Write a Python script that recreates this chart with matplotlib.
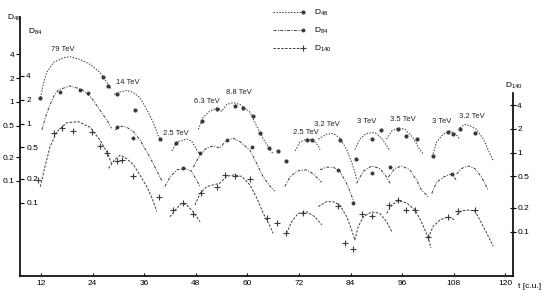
import matplotlib
matplotlib.use('Agg')
import matplotlib.pyplot as plt
from matplotlib.ticker import NullLocator
from matplotlib.lines import Line2D
from matplotlib.legend_handler import HandlerLine2D

plt.rcParams['font.family'] = ['Liberation Sans', 'DejaVu Sans']
plt.rcParams['mathtext.default'] = 'regular'

## Data (t in c.u.)

# D48 - upper curve (left outer axis)
d48_arc_t = [[11.9, 12.4, 13.3, 14.9, 17.2, 18.7, 21.1, 23.4, 25.7, 27.3, 28.4],
             [29.0, 30.4, 32.0, 33.4, 35.0, 36.6, 38.1, 39.3, 40.1],
             [42.4, 43.6, 45.9, 47.0, 48.2, 49.0],
             [48.6, 49.7, 51.3, 53.2, 54.0, 55.2, 56.7, 58.3, 60.6, 62.2, 63.7, 65.3, 66.0],
             [71.1, 72.2, 73.8, 75.3, 76.5, 76.9],
             [76.5, 78.4, 80.0, 81.5, 83.1, 84.3, 85.0, 85.4],
             [85.0, 86.2, 87.7, 89.7, 91.2, 92.4, 93.0],
             [92.4, 93.6, 95.1, 96.7, 98.6, 100.1, 100.9],
             [103.2, 104.0, 105.5, 107.1, 108.3, 109.4],
             [109.4, 110.6, 111.8, 113.3, 114.9, 116.0, 117.2]]
d48_arc_v = [[1.14, 1.59, 2.37, 3.17, 3.63, 3.74, 3.46, 2.99, 2.37, 1.77, 1.44],
             [1.25, 1.34, 1.40, 1.32, 1.14, 0.80, 0.55, 0.37, 0.32],
             [0.24, 0.31, 0.34, 0.32, 0.25, 0.21],
             [0.45, 0.64, 0.77, 0.85, 0.76, 0.93, 0.98, 0.93, 0.74, 0.49, 0.34, 0.25, 0.22],
             [0.24, 0.31, 0.34, 0.33, 0.28, 0.25],
             [0.34, 0.39, 0.40, 0.35, 0.25, 0.17, 0.13, 0.105],
             [0.25, 0.34, 0.40, 0.41, 0.35, 0.28, 0.25],
             [0.34, 0.43, 0.47, 0.45, 0.35, 0.25, 0.22],
             [0.22, 0.31, 0.39, 0.43, 0.40, 0.34],
             [0.47, 0.52, 0.50, 0.45, 0.34, 0.25, 0.18]]
d48_pts_t = [11.8, 26.3, 27.6, 29.6, 33.9, 39.7, 43.3, 49.4, 52.9, 57.1,
             59.0, 61.4, 62.9, 65.1, 67.2, 69.1, 73.9, 75.0, 81.5, 85.3,
             89.1, 91.2, 95.1, 97.0, 99.4, 103.2, 106.7, 107.9, 109.4, 112.9]
d48_pts_v = [1.11, 2.07, 1.59, 1.25, 0.78, 0.34, 0.30, 0.57, 0.82, 0.89,
             0.83, 0.66, 0.41, 0.26, 0.24, 0.18, 0.33, 0.33, 0.33, 0.19,
             0.34, 0.44, 0.46, 0.37, 0.34, 0.21, 0.42, 0.39, 0.46, 0.41]

# D84 - middle curve (left inner axis)
d84_arc_t = [[12.2, 13.3, 14.9, 16.0, 18.7, 21.5, 23.8, 25.7, 27.3, 28.4],
             [29.2, 30.4, 31.9, 33.5, 35.0, 36.6, 38.1, 39.3, 40.1],
             [40.8, 42.0, 43.6, 45.5, 47.0, 48.2, 49.0],
             [47.4, 49.0, 50.5, 52.1, 53.6, 55.2, 56.7, 58.3, 60.6, 62.2, 63.7, 65.3, 66.4],
             [68.7, 69.9, 71.5, 73.8, 75.3, 76.5, 77.3],
             [76.9, 78.4, 80.0, 81.5, 83.1, 84.3, 85.0],
             [85.4, 87.0, 88.9, 90.8, 92.4, 93.2],
             [92.8, 94.3, 95.9, 97.8, 99.4, 100.5, 102.1],
             [102.9, 104.0, 105.6, 107.5, 108.7],
             [108.7, 109.8, 111.4, 112.9, 114.5, 116.0]]
d84_arc_v = [[0.83, 1.35, 2.19, 2.66, 2.99, 2.71, 2.09, 1.48, 1.11, 0.87],
             [0.83, 0.93, 0.90, 0.79, 0.62, 0.44, 0.31, 0.23, 0.19],
             [0.16, 0.21, 0.26, 0.27, 0.25, 0.19, 0.16],
             [0.28, 0.40, 0.49, 0.52, 0.49, 0.62, 0.65, 0.59, 0.46, 0.31, 0.21, 0.16, 0.14],
             [0.16, 0.21, 0.25, 0.26, 0.23, 0.20, 0.18],
             [0.26, 0.28, 0.28, 0.25, 0.175, 0.12, 0.094],
             [0.175, 0.25, 0.29, 0.27, 0.21, 0.175],
             [0.21, 0.27, 0.29, 0.26, 0.19, 0.144, 0.118],
             [0.13, 0.18, 0.21, 0.23, 0.19],
             [0.23, 0.27, 0.29, 0.27, 0.21, 0.144]]
d84_pts_t = [16.4, 21.1, 23.0, 29.6, 33.5, 45.1, 49.0, 55.2, 61.0, 81.1, 84.6, 88.9, 93.2, 107.5]
d84_pts_v = [2.53, 2.66, 2.46, 0.90, 0.65, 0.27, 0.42, 0.62, 0.51, 0.26, 0.098, 0.24, 0.28, 0.23]

# D140 - lower curve (right axis)
d140_arc_t = [[11.8, 12.9, 14.1, 15.7, 18.0, 20.7, 23.4, 25.7, 27.3, 28.4],
              [27.7, 29.0, 30.4, 31.9, 33.5, 35.0, 36.6, 37.7, 38.5, 38.9],
              [42.0, 43.2, 44.7, 45.9, 47.4, 49.0],
              [47.8, 49.0, 50.5, 52.1, 53.6, 55.2, 56.7, 58.7, 60.6, 62.2, 63.7, 65.3, 66.0],
              [69.1, 70.3, 71.8, 73.8, 75.7, 77.3],
              [76.5, 78.4, 80.0, 81.5, 83.1, 84.3, 85.0],
              [85.0, 85.8, 87.0, 88.9, 90.8, 92.4, 93.6],
              [92.4, 93.6, 95.1, 97.1, 99.0, 100.5, 102.1, 102.7],
              [102.1, 103.2, 104.8, 106.7, 108.3],
              [108.7, 109.8, 111.4, 112.9, 114.1, 115.7, 117.2]]
d140_arc_v = [[0.37, 0.66, 1.19, 1.84, 2.39, 2.46, 2.09, 1.44, 1.02, 0.73],
              [0.63, 0.80, 0.93, 0.84, 0.70, 0.52, 0.37, 0.275, 0.21, 0.18],
              [0.154, 0.187, 0.228, 0.217, 0.178, 0.133],
              [0.217, 0.305, 0.37, 0.39, 0.41, 0.50, 0.52, 0.50, 0.39, 0.265, 0.17, 0.116, 0.095],
              [0.095, 0.133, 0.17, 0.178, 0.154, 0.122],
              [0.207, 0.239, 0.239, 0.217, 0.154, 0.104, 0.078],
              [0.078, 0.116, 0.154, 0.178, 0.17, 0.133, 0.10],
              [0.17, 0.217, 0.246, 0.23, 0.187, 0.133, 0.083, 0.062],
              [0.083, 0.116, 0.14, 0.154, 0.14],
              [0.162, 0.183, 0.187, 0.183, 0.14, 0.095, 0.065]]
d140_pts_t = [11.4, 14.9, 16.8, 19.5, 23.8, 25.7, 27.4, 29.6, 30.8, 33.5,
              39.5, 42.8, 45.1, 47.3, 49.2, 52.9, 54.8, 57.1, 60.6, 64.5,
              66.8, 69.1, 73.0, 81.1, 82.7, 84.6, 86.6, 88.9, 93.0, 95.1,
              96.9, 99.0, 102.1, 106.7, 109.1, 112.9]
d140_pts_v = [0.45, 1.78, 2.03, 1.89, 1.84, 1.21, 0.98, 0.79, 0.80, 0.50,
              0.27, 0.185, 0.23, 0.167, 0.31, 0.37, 0.52, 0.50, 0.46, 0.147,
              0.13, 0.095, 0.173, 0.21, 0.071, 0.06, 0.167, 0.158, 0.217, 0.25,
              0.187, 0.19, 0.085, 0.151, 0.183, 0.187]

# energy labels along the D48 curve
energy_labels = ['79 TeV', '14 TeV', '2.5 TeV', '6.3 TeV', '8.8 TeV', '2.5 TeV',
                 '3.2 TeV', '3 TeV', '3.5 TeV', '3 TeV', '3.2 TeV']
energy_t = [17.1, 32.2, 43.4, 50.6, 58.0, 73.6, 78.5, 87.8, 96.2, 105.3, 112.3]
energy_v = [4.6, 1.77, 0.40, 1.02, 1.32, 0.41, 0.52, 0.57, 0.60, 0.57, 0.66]

x_ticks = [12, 24, 36, 48, 60, 72, 84, 96, 108, 120]
y_ticks = [0.1, 0.2, 0.5, 1, 2, 4]
y_tick_labels = ['0.1', '0.2', '0.5', '1', '2', '4']


# legend sample with the marker at the right end of the line, like the original
class EndMarkerHandler(HandlerLine2D):
  def create_artists(self, *args, **kwargs):
    arts = super().create_artists(*args, **kwargs)
    for a in arts:
      a.set_markevery([2])
    return arts


## Figure

W, H = 545, 298
fig = plt.figure(figsize=(W / 100, H / 100), dpi=100)
rect = [20 / W, 22 / H, 493 / W, 259 / H]
ax = fig.add_axes(rect)
ax84 = fig.add_axes(rect, sharex=ax)
ax140 = ax.twinx()

col = '#3a3a3a'
fs = 6
ls48 = (0, (1.5, 1.5))
ls84 = (0, (3, 1.5, 1, 1.5))
ls140 = (0, (2.5, 1.5))

# D48
for t, v in zip(d48_arc_t, d48_arc_v):
  ax.plot(t, v, color=col, lw=0.7, linestyle=ls48)
ax.plot(d48_pts_t, d48_pts_v, linestyle='none', marker='o', ms=2, color=col)

# D84
for t, v in zip(d84_arc_t, d84_arc_v):
  ax84.plot(t, v, color=col, lw=0.7, linestyle=ls84)
ax84.plot(d84_pts_t, d84_pts_v, linestyle='none', marker='o', ms=1.8, color=col)

# D140
for t, v in zip(d140_arc_t, d140_arc_v):
  ax140.plot(t, v, color=col, lw=0.7, linestyle=ls140)
ax140.plot(d140_pts_t, d140_pts_v, linestyle='none', marker='+', ms=4.5, mew=0.8, color=col)

for lbl, t, v in zip(energy_labels, energy_t, energy_v):
  ax.text(t, v, lbl, fontsize=5.5, ha='center', va='center', color='#222222')

# axes scales
ax.set_xlim(7.1, 121.8)
ax.set_yscale('log')
ax.set_ylim(0.00627, 11.9)
ax84.set_yscale('log')
ax84.set_ylim(0.01176, 22.3)
ax140.set_yscale('log')
ax140.set_ylim(0.0274, 52.0)

for a in (ax, ax84, ax140):
  a.yaxis.set_minor_locator(NullLocator())

# main axis: D48 on left outer, t on bottom
for s in ('top', 'right'):
  ax.spines[s].set_visible(False)
ax.spines['left'].set_linewidth(1.2)
ax.spines['bottom'].set_linewidth(1.2)
ax.set_xticks(x_ticks)
ax.set_xticklabels([str(x) for x in x_ticks], fontsize=fs)
ax.tick_params(axis='x', direction='in', length=2, pad=3)
ax.set_yticks(y_ticks)
ax.set_yticklabels(y_tick_labels, fontsize=fs)
ax.tick_params(axis='y', direction='out', length=3, width=0.8, pad=1)

# D84 on left inner side
ax84.patch.set_visible(False)
for s in ax84.spines.values():
  s.set_visible(False)
ax84.xaxis.set_visible(False)
ax84.set_yticks(y_ticks)
ax84.set_yticklabels(y_tick_labels, fontsize=fs, ha='left')
ax84.tick_params(axis='y', direction='in', length=3, width=0.8, pad=-4.5)

# D140 on right
for s in ('top', 'left', 'bottom'):
  ax140.spines[s].set_visible(False)
ax140.spines['right'].set_linewidth(1.2)
ax140.spines['right'].set_bounds(0.0274, 5.7)
ax140.set_yticks(y_ticks)
ax140.set_yticklabels(y_tick_labels, fontsize=fs)
ax140.tick_params(axis='y', direction='inout', length=4, width=0.8, pad=1)

# axis names
fig.text(7 / W, 1 - 18 / H, '$D_{48}$', fontsize=fs, va='center', ha='left')
fig.text(28 / W, 1 - 32 / H, '$D_{84}$', fontsize=fs, va='center', ha='left')
fig.text(505 / W, 1 - 86 / H, '$D_{140}$', fontsize=fs, va='center', ha='left')
fig.text(518 / W, 1 - 286 / H, 't [c.u.]', fontsize=fs, va='center', ha='left')

# legend
handles = [Line2D([], [], color=col, lw=0.7, linestyle=ls48, marker='o', ms=2),
           Line2D([], [], color=col, lw=0.7, linestyle=ls84, marker='o', ms=1.8),
           Line2D([], [], color=col, lw=0.7, linestyle=ls140, marker='+', ms=4.5, mew=0.8)]
fig.legend(handles, ['$D_{48}$', '$D_{84}$', '$D_{140}$'], loc='upper left',
           bbox_to_anchor=(266 / W, 1 - 1 / H), frameon=False, fontsize=fs,
           handlelength=3.6, handletextpad=1.4, labelspacing=0.95, borderpad=0.3,
           handler_map={Line2D: EndMarkerHandler()})

fig.savefig('out.png', dpi=100)
